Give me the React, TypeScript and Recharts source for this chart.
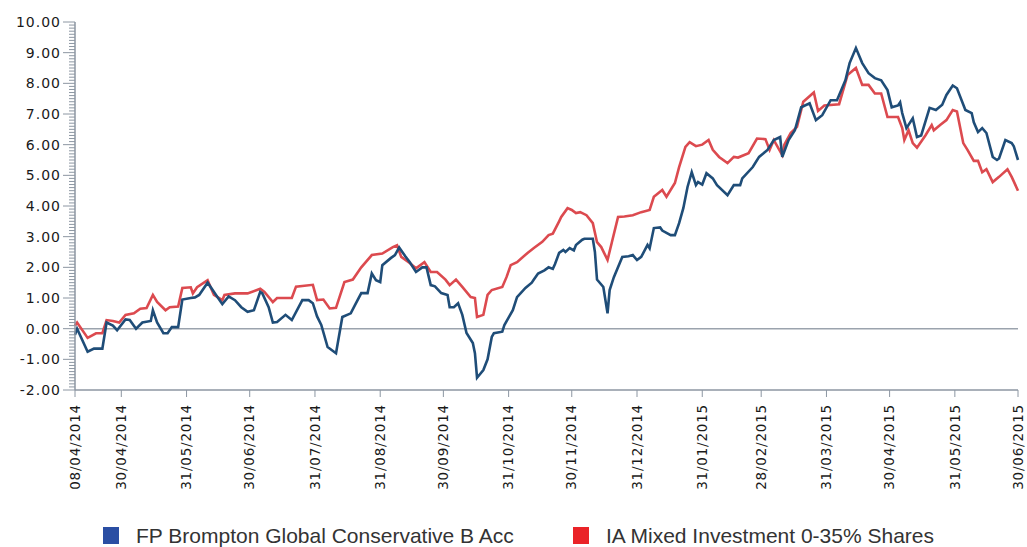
import React from 'react';
import { LineChart, Line, XAxis, YAxis, ReferenceLine } from 'recharts';

// dates shown under the x axis (dd/mm/yyyy), first one is the start of the series
const tickLabels = [
  '08/04/2014', '30/04/2014', '31/05/2014', '30/06/2014', '31/07/2014', '31/08/2014',
  '30/09/2014', '31/10/2014', '30/11/2014', '31/12/2014', '31/01/2015', '28/02/2015',
  '31/03/2015', '30/04/2015', '31/05/2015', '30/06/2015',
];

const seriesNames = ['FP Brompton Global Conservative B Acc', 'IA Mixed Investment 0-35% Shares'];

// days since 08/04/2014 and cumulative % return
const fundDays = [
  0, 1, 6, 9, 13, 15, 18, 20, 24, 26, 29, 32, 36, 37, 39, 42, 44, 46, 49, 51, 55, 57, 59, 63, 65, 67, 70, 73,
  76, 79, 82, 85, 88, 89, 92, 94, 96, 100, 103, 108, 111, 113, 115, 117, 120, 124, 127, 131, 133, 136, 139,
  141, 143, 145, 146, 150, 152, 154, 157, 159, 162, 165, 167, 169, 171, 174, 177, 178, 180, 182, 184, 186,
  189, 190, 191, 194, 196, 198, 199, 203, 204, 208, 210, 214, 217, 218, 220, 223, 225, 227, 228, 230, 232,
  233, 235, 237, 238, 241, 242, 246, 247, 248, 251, 253, 254, 256, 260, 263, 265, 267, 269, 272, 273, 275,
  278, 279, 283, 285, 287, 289, 291, 293, 295, 296, 298, 300, 303, 305, 310, 313, 316, 317, 322, 325, 329,
  332, 335, 336, 339, 342, 345, 349, 352, 355, 359, 362, 366, 368, 371, 374, 377, 380, 383, 386, 388, 391,
  392, 393, 395, 398, 400, 402, 406, 409, 412, 414, 417, 419, 423, 426, 427, 429, 431, 433, 436, 438, 439,
  442, 445, 446, 448,
];
const fundValues = [
  -0.2, 0.0, -0.75, -0.65, -0.65, 0.2, 0.1, -0.05, 0.3, 0.28, 0.0, 0.2, 0.25, 0.6, 0.2, -0.15, -0.15, 0.05,
  0.05, 0.95, 1.0, 1.02, 1.1, 1.5, 1.3, 1.1, 0.8, 1.05,
  0.93, 0.7, 0.55, 0.6, 1.2, 1.15, 0.7, 0.2, 0.22, 0.45, 0.28, 0.93, 0.93, 0.83, 0.4, 0.12, -0.6, -0.8, 0.38,
  0.5, 0.77, 1.16, 1.16,
  1.8, 1.58, 1.52, 2.07, 2.3, 2.4, 2.65, 2.35, 2.17, 1.85, 2.0, 2.0, 1.42, 1.38, 1.16, 1.1, 0.7, 0.7, 0.83,
  0.45, -0.14,
  -0.47, -0.8, -1.6, -1.35, -1.0, -0.27, -0.15, -0.1, 0.12, 0.6, 1.03, 1.33, 1.5, 1.6, 1.8, 1.9, 2.0, 1.95,
  2.1, 2.47, 2.57,
  2.5, 2.63, 2.55, 2.73, 2.9, 2.93, 2.93, 2.5, 1.6, 1.36, 0.5, 1.26, 1.68, 2.34, 2.36, 2.4, 2.24, 2.34, 2.73,
  2.62, 3.28,
  3.3, 3.2, 3.05, 3.05, 3.44, 3.93, 4.62, 5.1, 4.68, 4.78, 4.7, 5.07, 4.9, 4.68, 4.35, 4.68, 4.68, 4.9, 5.27,
  5.6, 5.83,
  6.15, 6.25, 5.6, 6.15, 6.47, 7.22, 7.35, 6.8, 6.96, 7.45, 7.45, 8.1, 8.66, 9.15, 8.66, 8.33, 8.17, 8.1, 7.78,
  7.22, 7.28,
  7.38, 7.03, 6.54, 6.86, 6.25, 6.3, 7.2, 7.13, 7.3, 7.62, 7.93, 7.84, 7.13, 7.03, 6.73, 6.41, 6.54, 6.38,
  5.6, 5.5, 5.55,
  6.15, 6.05, 5.95, 5.5,
];

const sectorDays = [
  0, 1, 6, 10, 13, 15, 18, 21, 24, 28, 31, 34, 37, 39, 43, 45, 49, 51, 55, 56, 58, 63, 66, 70, 71, 76, 82, 88,
  90, 94, 96, 103, 105, 113, 115, 118, 121, 124, 128, 132, 136, 141, 146, 151, 153, 155, 159, 162, 166, 169,
  172, 176, 178, 181, 184, 188, 190, 191, 194, 196, 198, 203, 205, 207, 210, 215, 218, 222, 225, 227, 230,
  231, 234, 236, 238, 240, 243, 246, 248, 250, 253, 255, 258, 261, 265, 269, 273, 275, 279, 281, 285, 287,
  290, 292, 295, 298, 301, 303, 306, 310, 313, 315, 320, 324, 328, 330, 332, 336, 337, 340, 343, 346, 351,
  353, 356, 363, 367, 371, 374, 377, 380, 383, 386, 391, 393, 394, 396, 398, 400, 404, 407, 408, 411, 414,
  417, 419, 422, 424, 427, 429, 431, 433, 436, 439, 443, 445, 448,
];
const sectorValues = [
  0.1, 0.2, -0.3, -0.15, -0.15, 0.28, 0.25, 0.2, 0.45, 0.5, 0.65, 0.67, 1.1, 0.87, 0.6, 0.7, 0.72, 1.33, 1.35,
  1.15, 1.35, 1.58, 1.1, 0.93, 1.1, 1.15, 1.15, 1.3,
  1.2, 0.87, 1.0, 1.0, 1.37, 1.43, 0.93, 0.95, 0.66, 0.68, 1.52, 1.6, 2.0, 2.4, 2.45, 2.66, 2.72, 2.34, 2.14,
  1.97, 2.17, 1.85,
  1.85, 1.6, 1.42, 1.6, 1.36, 1.03, 1.0, 0.38, 0.45, 1.1, 1.26, 1.36, 1.68, 2.07, 2.17, 2.47, 2.63, 2.83, 3.05,
  3.1, 3.5,
  3.64, 3.93, 3.87, 3.77, 3.8, 3.7, 3.44, 2.82, 2.66, 2.24, 2.8, 3.64, 3.66, 3.7, 3.8, 3.87, 4.3, 4.52, 4.3,
  4.75, 5.27,
  5.93, 6.08, 5.95, 6.0, 6.15, 5.83, 5.6, 5.4, 5.6, 5.58, 5.72, 6.2, 6.18, 5.83, 6.15, 5.66, 6.0, 6.38, 6.58,
  7.4, 7.7,
  7.1, 7.28, 7.32, 8.27, 8.5, 7.95, 7.95, 7.67, 7.67, 6.9, 6.9, 6.54, 6.15, 6.47, 6.05, 5.9, 6.3, 6.64, 6.47,
  6.64, 6.8,
  7.13, 7.08, 6.05, 5.83, 5.47, 5.47, 5.1, 5.2, 4.78, 4.95, 5.2, 4.95, 4.5,
];

const parseDate = (s: string) => {
  const [d, m, y] = s.split('/').map(Number);
  return Date.UTC(y, m - 1, d);
};
const dayOf = (s: string) => Math.round((parseDate(s) - parseDate(tickLabels[0])) / 86400000);
const tickDays = tickLabels.map(dayOf);
const labelByDay = new Map(tickDays.map((d, i) => [d, tickLabels[i]]));

// merge both series on the day axis
const byDay = new Map<number, { day: number; fund?: number; sector?: number }>();
fundDays.forEach((d, i) => {
  const row = byDay.get(d) || { day: d };
  row.fund = fundValues[i];
  byDay.set(d, row);
});
sectorDays.forEach((d, i) => {
  const row = byDay.get(d) || { day: d };
  row.sector = sectorValues[i];
  byDay.set(d, row);
});
const data = Array.from(byDay.values()).sort((a, b) => a.day - b.day);

const yTicks = Array.from({ length: 121 }, (_, i) => Math.round((-2 + i * 0.1) * 10) / 10);

const AXIS_GREY = '#8c96a2';
const FONT = '"DejaVu Sans", Verdana, sans-serif';

const YTick = ({ x, y, payload }: any) => {
  const v = payload.value;
  const major = Math.abs(v - Math.round(v)) < 1e-6;
  return (
    <g>
      <line x1={x - (major ? 12 : 6)} x2={x} y1={y} y2={y} stroke={AXIS_GREY} strokeWidth={1} />
      {major && (
        <text x={x - 14} y={y} dy="0.35em" textAnchor="end" fontSize={14} letterSpacing={1}
          fontFamily={FONT} fill="#1a1a1a">
          {v.toFixed(2)}
        </text>
      )}
    </g>
  );
};

const XTick = ({ x, y, payload }: any) => (
  <text transform={`translate(${x},${y}) rotate(-90)`} dy="0.35em" textAnchor="end" fontSize={13.5}
    letterSpacing={0.8} fontFamily={FONT} fill="#1a1a1a">
    {labelByDay.get(payload.value)}
  </text>
);

const legendItems = [
  { name: seriesNames[0], color: '#2a4ea3', left: 103 },
  { name: seriesNames[1], color: '#ea2328', left: 573 },
];

export default function App() {
  return (
    <div style={{ position: 'absolute', left: 0, top: 0, width: 1027, height: 547, background: '#fff', overflow: 'hidden' }}>
      <LineChart width={1027} height={547} data={data} margin={{ top: 22, right: 9, bottom: 0, left: 0 }}>
        <XAxis
          dataKey="day"
          type="number"
          domain={[0, 448]}
          ticks={tickDays}
          interval={0}
          height={157}
          tickSize={7}
          tickMargin={7}
          tick={<XTick />}
          stroke={AXIS_GREY}
          axisLine={{ stroke: AXIS_GREY, strokeWidth: 1.5 }}
        />
        <YAxis
          type="number"
          domain={[-2, 10]}
          ticks={yTicks}
          interval={0}
          width={75}
          tickSize={0}
          tickMargin={0}
          tickLine={false}
          tick={<YTick />}
          axisLine={{ stroke: AXIS_GREY, strokeWidth: 1.5 }}
        />
        <ReferenceLine y={0} stroke="#9ba3ad" strokeWidth={1.5} />
        <Line type="linear" dataKey="sector" name={seriesNames[1]} stroke="#dc4a4f" strokeWidth={2.6}
          dot={false} connectNulls isAnimationActive={false} />
        <Line type="linear" dataKey="fund" name={seriesNames[0]} stroke="#1f4d78" strokeWidth={2.6}
          dot={false} connectNulls isAnimationActive={false} />
      </LineChart>
      {legendItems.map((it) => (
        <div key={it.name} style={{ position: 'absolute', left: it.left, top: 524, height: 23, display: 'flex',
          alignItems: 'center', fontFamily: '"Liberation Sans", Arial, sans-serif', fontSize: 21, lineHeight: '23px',
          color: '#333', whiteSpace: 'nowrap' }}>
          <span style={{ display: 'inline-block', width: 16, height: 17, background: it.color, marginRight: 17 }} />
          <span>{it.name}</span>
        </div>
      ))}
    </div>
  );
}
